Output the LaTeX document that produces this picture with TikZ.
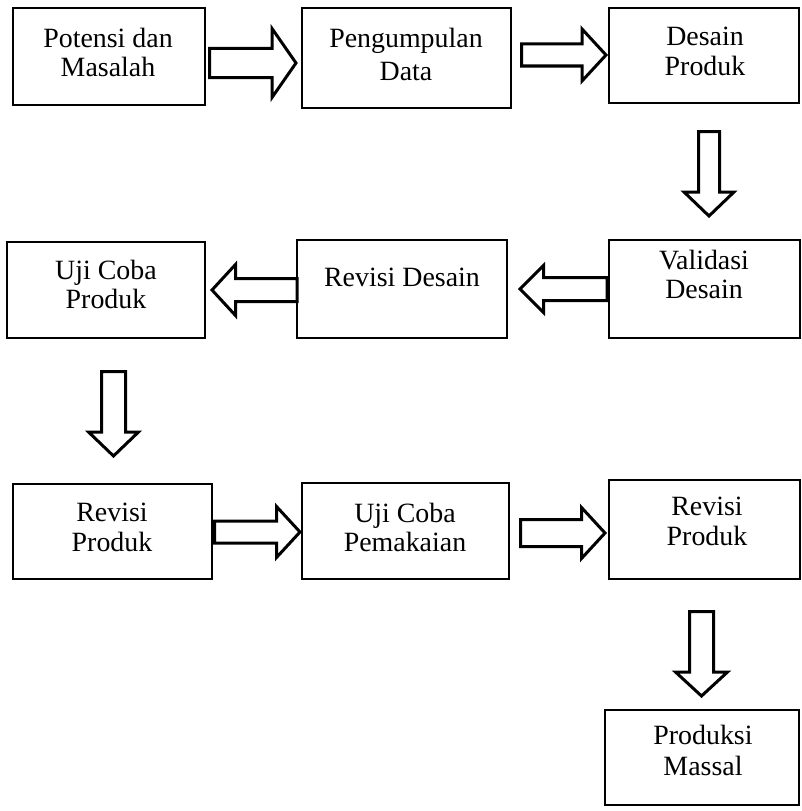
\documentclass[tikz,border=0pt]{standalone}
\usepackage{fontspec}
\setmainfont{Liberation Serif}
\usetikzlibrary{calc}
\tikzset{
  box/.style={draw=black, line width=2.2bp, rectangle, inner sep=0pt, fill=white},
  boxtext/.style={font=\fontsize{28}{30}\selectfont, align=center, inner sep=0pt, anchor=north},
  blockarr/.style={draw=black, line width=3bp, fill=white, line join=miter},
}
% #1 tail, #2 tip, #3 head length, #4 shaft half width, #5 head half width
\newcommand\blockarrow[5]{%
  \coordinate (ba-base) at ($(#2)!#3!(#1)$);
  \draw[blockarr]
    ($(#1)!#4!90:(#2)$) -- ($(ba-base)!#4!-90:(#1)$) -- ($(ba-base)!#5!-90:(#1)$)
    -- (#2) -- ($(ba-base)!#5!90:(#1)$) -- ($(ba-base)!#4!90:(#1)$)
    -- ($(#1)!#4!-90:(#2)$) -- cycle;}
\begin{document}
\begin{tikzpicture}[x=1bp, y=-1bp]
\useasboundingbox (0,0) rectangle (802,811);
\fill[white] (0,0) rectangle (802,811);

% boxes
\node[box, minimum width=192bp, minimum height=97bp]  (b1)  at (109,56.5)   {};
\node[box, minimum width=209bp, minimum height=100bp] (b2)  at (406.5,58)   {};
\node[box, minimum width=190bp, minimum height=95bp]  (b3)  at (704,55.5)   {};
\node[box, minimum width=198bp, minimum height=96bp]  (b4)  at (106,290)    {};
\node[box, minimum width=210bp, minimum height=98bp]  (b5)  at (402,289)    {};
\node[box, minimum width=191bp, minimum height=98bp]  (b6)  at (704.5,289)  {};
\node[box, minimum width=199bp, minimum height=95bp]  (b7)  at (112.5,531.5){};
\node[box, minimum width=207bp, minimum height=96bp]  (b8)  at (405.5,531)  {};
\node[box, minimum width=191bp, minimum height=99bp]  (b9)  at (704.5,529.5){};
\node[box, minimum width=194bp, minimum height=95bp]  (b10) at (702,757.5)  {};

% texts
\node[boxtext] (t1)  at (108,27.5)  {Potensi dan\\Masalah};
\node[boxtext, font=\fontsize{28}{34}\selectfont] (t2)  at (406,27.5)  {Pengumpulan\\Data};
\node[boxtext] (t3)  at (705,26.5)  {Desain\\Produk};
\node[boxtext] (t4)  at (106,259.5) {Uji Coba\\Produk};
\node[boxtext] (t5)  at (402,267.5) {Revisi Desain};
\node[boxtext] (t6)  at (704,249.5) {Validasi\\Desain};
\node[boxtext] (t7)  at (112,502.5) {Revisi\\Produk};
\node[boxtext] (t8)  at (405,502.5) {Uji Coba\\Pemakaian};
\node[boxtext] (t9)  at (707,497) {Revisi\\Produk};
\node[boxtext, font=\fontsize{28}{31}\selectfont] (t10) at (703,725) {Produksi\\Massal};

% arrow end points
\coordinate (a1s) at (209.5,63);   \coordinate (a1e) at (296,63);
\coordinate (a2s) at (521.5,55);   \coordinate (a2e) at (606,55);
\coordinate (a3s) at (709,131.5);  \coordinate (a3e) at (709,216);
\coordinate (a4s) at (297,290);    \coordinate (a4e) at (212,290);
\coordinate (a5s) at (607,289);    \coordinate (a5e) at (520,289);
\coordinate (a6s) at (113.5,371.5);\coordinate (a6e) at (113.5,456);
\coordinate (a7s) at (214.5,532);  \coordinate (a7e) at (300,532);
\coordinate (a8s) at (520.5,533);  \coordinate (a8e) at (605,533);
\coordinate (a9s) at (701.5,611.5);\coordinate (a9e) at (701.5,696);

\blockarrow{a1s}{a1e}{24bp}{14.5bp}{34.5bp}
\blockarrow{a2s}{a2e}{24bp}{11bp}{26bp}
\blockarrow{a3s}{a3e}{24bp}{10.5bp}{25bp}
\blockarrow{a4s}{a4e}{23.5bp}{11.5bp}{25.5bp}
\blockarrow{a5s}{a5e}{23.5bp}{11.5bp}{23.5bp}
\blockarrow{a6s}{a6e}{24bp}{12bp}{25bp}
\blockarrow{a7s}{a7e}{23.5bp}{11bp}{25.5bp}
\blockarrow{a8s}{a8e}{23.5bp}{13.5bp}{25.5bp}
\blockarrow{a9s}{a9e}{24bp}{12bp}{26bp}
\end{tikzpicture}
\end{document}
